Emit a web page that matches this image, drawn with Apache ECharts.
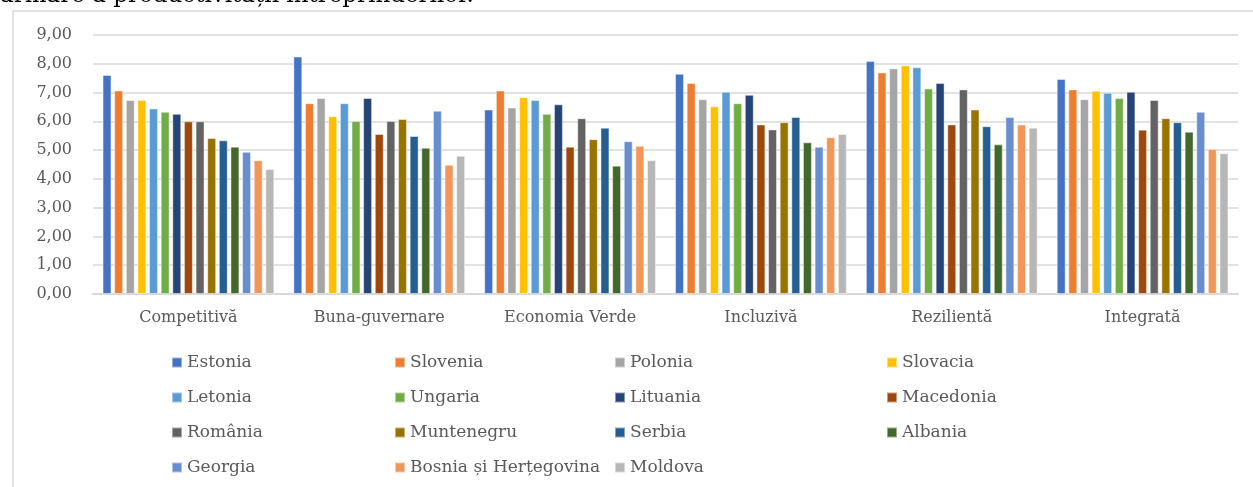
<!DOCTYPE html>
<html>
<head>
<meta charset="utf-8">
<script src="https://cdn.jsdelivr.net/npm/echarts@6/dist/echarts.min.js"></script>
<style>
  html, body { margin: 0; padding: 0; background: #fff; }
  #chart { width: 1253px; height: 487px; }
</style>
</head>
<body>
<div id="chart"></div>
<script>
// categorii (piloni)
var categories = ['Competitivă', 'Buna-guvernare', 'Economia Verde', 'Incluzivă', 'Rezilientă', 'Integrată'];

// scoruri pe tari, in ordinea categoriilor
var estonia    = [7.61, 8.25, 6.41, 7.65, 8.10, 7.47];
var slovenia   = [7.07, 6.63, 7.07, 7.33, 7.70, 7.11];
var polonia    = [6.74, 6.81, 6.48, 6.77, 7.84, 6.77];
var slovacia   = [6.74, 6.18, 6.84, 6.52, 7.95, 7.06];
var letonia    = [6.45, 6.63, 6.74, 7.03, 7.88, 6.99];
var ungaria    = [6.33, 6.01, 6.26, 6.63, 7.14, 6.81];
var lituania   = [6.26, 6.81, 6.59, 6.92, 7.33, 7.03];
var macedonia  = [6.00, 5.56, 5.12, 5.89, 5.89, 5.71];
var romania    = [6.00, 6.01, 6.11, 5.72, 7.11, 6.74];
var muntenegru = [5.42, 6.08, 5.38, 5.97, 6.41, 6.11];
var serbia     = [5.34, 5.49, 5.78, 6.15, 5.83, 5.97];
var albania    = [5.12, 5.08, 4.46, 5.27, 5.20, 5.64];
var georgia    = [4.94, 6.37, 5.31, 5.12, 6.15, 6.33];
var bosnia     = [4.65, 4.49, 5.15, 5.45, 5.89, 5.04];
var moldova    = [4.34, 4.80, 4.65, 5.56, 5.78, 4.89];

var countries = ['Estonia', 'Slovenia', 'Polonia', 'Slovacia', 'Letonia', 'Ungaria', 'Lituania',
  'Macedonia', 'România', 'Muntenegru', 'Serbia', 'Albania', 'Georgia', 'Bosnia și Herțegovina', 'Moldova'];
var values = [estonia, slovenia, polonia, slovacia, letonia, ungaria, lituania,
  macedonia, romania, muntenegru, serbia, albania, georgia, bosnia, moldova];

var colors = ['#4472C4', '#ED7D31', '#A5A5A5', '#FFC000', '#5B9BD5', '#70AD47', '#264478',
  '#9E480E', '#636363', '#997300', '#255E91', '#43682B', '#698ED0', '#F1975A', '#B7B7B7'];

// textul din poza e Times latit, DejaVu Serif are latimea apropiata
var serif = 'DejaVu Serif';

// legenda pe 4 coloane, ca in Excel
var legendCols = [
  { left: 166, data: ['Estonia', 'Letonia', 'România', 'Georgia'] },
  { left: 389, data: ['Slovenia', 'Ungaria', 'Muntenegru', 'Bosnia și Herțegovina'] },
  { left: 609, data: ['Polonia', 'Lituania', 'Serbia', 'Moldova'] },
  { left: 881, data: ['Slovacia', 'Macedonia', 'Albania'] }
];

var chart = echarts.init(document.getElementById('chart'));

var series = countries.map(function(name, i) {
  return {
    name: name,
    type: 'bar',
    data: values[i],
    barGap: '30%',
    barCategoryGap: '10%',
    itemStyle: {
      color: colors[i],
      borderColor: 'rgba(255,255,255,0.45)',
      borderWidth: 1
    }
  };
});

chart.setOption({
  animation: false,
  color: colors,
  textStyle: { fontFamily: serif },
  grid: {
    left: 93,
    right: 15,
    top: 35,
    bottom: 193
  },
  legend: legendCols.map(function(c) {
    return {
      orient: 'vertical',
      left: c.left,
      top: 349,
      itemWidth: 10,
      itemHeight: 10,
      itemGap: 18,
      icon: 'rect',
      selectedMode: false,
      textStyle: {
        fontFamily: serif,
        fontSize: 17,
        color: '#595959'
      },
      data: c.data
    };
  }),
  xAxis: {
    type: 'category',
    data: categories,
    axisLine: { lineStyle: { color: '#d9d9d9', width: 2 } },
    axisTick: { show: false },
    axisLabel: {
      fontFamily: serif,
      fontSize: 16,
      color: '#595959',
      margin: 16
    }
  },
  yAxis: {
    type: 'value',
    min: 0,
    max: 9,
    interval: 1,
    axisLine: { show: false },
    axisTick: { show: false },
    splitLine: { lineStyle: { color: '#d9d9d9', width: 1.5 } },
    axisLabel: {
      fontFamily: serif,
      fontSize: 16,
      color: '#595959',
      margin: 21,
      formatter: function(v) { return v.toFixed(2).replace('.', ','); }
    }
  },
  graphic: [
    {
      type: 'rect',
      shape: { x: 13, y: 11, width: 1250, height: 490 },
      style: { fill: 'none', stroke: '#d9d9d9', lineWidth: 1.5 },
      silent: true
    },
    {
      type: 'text',
      x: 0,
      y: 8,
      style: {
        text: 'armare a productivității întreprinderilor.',
        fontFamily: serif,
        fontSize: 23,
        verticalAlign: 'bottom',
        fill: '#000'
      },
      silent: true
    }
  ],
  series: series
});
</script>
</body>
</html>
